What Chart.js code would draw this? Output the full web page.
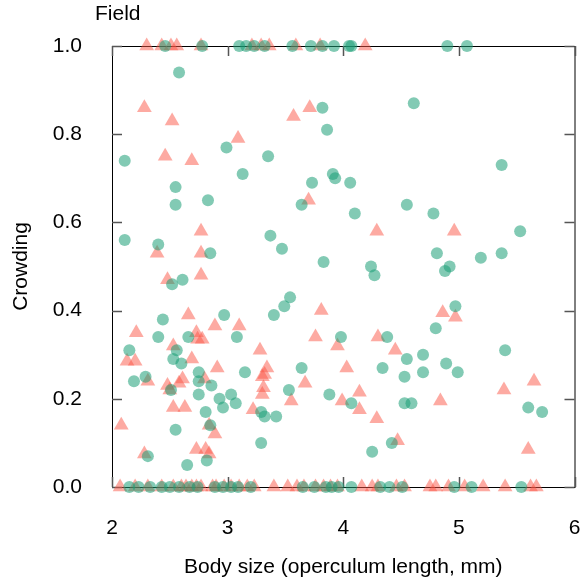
<!DOCTYPE html>
<html>
<head>
<meta charset="utf-8">
<script src="https://cdn.jsdelivr.net/npm/chart.js@4.4.1/dist/chart.umd.min.js"></script>
<style>
  body { margin: 0; background: #fff; }
</style>
</head>
<body>
<canvas id="my" width="583" height="581"></canvas>
<script>
// tick labels
const xTicks = [2, 3, 4, 5, 6];
const yTicks = [0, 0.2, 0.4, 0.6, 0.8, 1.0];

// green circles (body size, crowding)
const circleX = [
  2.46, 2.78, 3.10, 3.16, 3.23, 3.32, 3.56, 3.72, 3.82, 3.92, 4.05, 4.07, 4.90, 5.07,
  2.58, 3.82, 3.86, 4.61, 2.99, 2.11, 3.35, 5.37, 3.13, 3.73, 3.91, 3.93, 4.06, 2.55,
  2.55, 2.83, 3.64, 4.55, 4.10, 4.78, 5.53, 2.11, 2.40, 2.85, 3.37, 3.47, 3.83, 4.81,
  5.19, 5.37, 4.24, 4.27, 4.88, 4.92, 2.52, 2.61, 3.54, 3.49, 3.40, 2.97, 2.44, 4.97,
  4.80, 2.40, 2.66, 3.08, 3.98, 4.38, 2.15, 5.40, 2.56, 2.53, 2.60, 4.55, 4.69, 4.89,
  4.34, 3.64, 2.75, 3.15, 4.69, 4.99, 2.19, 2.29, 2.75, 4.53, 2.86, 2.51, 3.53, 2.75,
  3.03, 3.88, 2.93, 3.07, 4.07, 4.53, 4.59, 2.96, 5.60, 2.81, 3.29, 5.72, 3.32, 3.42,
  2.85, 2.55, 3.29, 4.42, 4.25, 2.31, 2.82, 2.65,
  2.15, 2.23, 2.33, 2.43, 2.50, 2.58, 2.67, 2.74, 2.89, 2.96, 3.03, 3.09, 3.20, 3.65,
  3.75, 3.85, 3.90, 3.96, 4.07, 4.32, 4.40, 4.51, 4.96, 5.11, 5.54
];
const circleY = [
  1, 1, 1, 1, 1, 1, 1, 1, 1, 1, 1, 1, 1, 1,
  0.94, 0.86, 0.81, 0.87, 0.77, 0.74, 0.75, 0.73, 0.71, 0.69, 0.71, 0.70, 0.69, 0.68,
  0.64, 0.65, 0.64, 0.64, 0.62, 0.62, 0.58, 0.56, 0.55, 0.53, 0.57, 0.54, 0.51, 0.53,
  0.52, 0.53, 0.50, 0.48, 0.49, 0.50, 0.46, 0.47, 0.43, 0.41, 0.39, 0.39, 0.38, 0.41,
  0.36, 0.34, 0.34, 0.34, 0.34, 0.34, 0.31, 0.31, 0.31, 0.29, 0.28, 0.29, 0.30, 0.28,
  0.27, 0.27, 0.26, 0.26, 0.26, 0.26, 0.24, 0.25, 0.24, 0.25, 0.23, 0.22, 0.22, 0.21,
  0.21, 0.21, 0.20, 0.19, 0.19, 0.19, 0.19, 0.18, 0.18, 0.17, 0.17, 0.17, 0.16, 0.16,
  0.14, 0.13, 0.10, 0.10, 0.08, 0.07, 0.06, 0.05,
  0, 0, 0, 0, 0, 0, 0, 0, 0, 0, 0, 0, 0, 0,
  0, 0, 0, 0, 0, 0, 0, 0, 0, 0, 0
];

// salmon triangles (body size, crowding)
const triangleX = [
  2.30, 2.43, 2.51, 2.56, 2.77, 3.21, 3.29, 3.36, 3.59, 3.80, 4.19,
  2.28, 2.52, 3.57, 3.71, 3.09, 2.46, 2.69, 3.70, 2.77, 2.39, 2.77, 4.29, 4.96,
  2.77, 2.48, 3.81, 2.66, 4.86, 4.97, 2.21, 2.73, 2.89, 3.10, 3.76, 4.30, 2.74,
  2.78, 2.53, 3.28, 3.95, 4.45, 2.13, 2.20, 2.69, 2.91, 3.34, 4.03, 2.31, 2.61,
  2.80, 3.30, 3.32, 5.65, 2.58, 3.67, 2.48, 2.50, 3.31, 3.30, 5.39, 4.14, 3.55,
  3.99, 4.84, 2.53, 2.63, 3.22, 4.14, 4.29, 2.08, 2.84, 2.89, 4.47, 2.28, 2.73,
  2.81, 2.84, 5.60,
  2.07, 2.20, 2.31, 2.43, 2.53, 2.60, 2.64, 2.69, 2.73, 2.77, 2.87, 2.90, 2.97,
  3.03, 3.10, 3.17, 3.23, 3.40, 3.52, 3.60, 3.66, 3.76, 3.83, 3.89, 3.95, 4.16,
  4.25, 4.30, 4.46, 4.53, 4.75, 4.80, 4.91, 5.05, 5.21, 5.40, 5.62, 5.67
];
const triangleY = [
  1, 1, 1, 1, 1, 1, 1, 1, 1, 1, 1,
  0.86, 0.83, 0.84, 0.86, 0.79, 0.75, 0.74, 0.65, 0.58, 0.53, 0.53, 0.58, 0.58,
  0.48, 0.47, 0.40, 0.39, 0.395, 0.385, 0.35, 0.35, 0.365, 0.365, 0.34, 0.34, 0.335,
  0.335, 0.32, 0.31, 0.32, 0.31, 0.285, 0.285, 0.29, 0.27, 0.27, 0.27, 0.24, 0.245,
  0.245, 0.25, 0.255, 0.24, 0.235, 0.235, 0.23, 0.22, 0.225, 0.21, 0.22, 0.215, 0.195,
  0.195, 0.195, 0.18, 0.18, 0.175, 0.175, 0.155, 0.14, 0.14, 0.12, 0.105, 0.075, 0.085,
  0.085, 0.075, 0.085,
  0, 0, 0, 0, 0, 0, 0, 0, 0, 0, 0, 0, 0,
  0, 0, 0, 0, 0, 0, 0, 0, 0, 0, 0, 0, 0,
  0, 0, 0, 0, 0, 0, 0, 0, 0, 0, 0, 0
];

const fontFamily = '"Liberation Sans", Arial, sans-serif';
const axisFont = { family: fontFamily, size: 21 };

// invisible tick marks only push the labels away from the box
const hiddenGrid = {
  display: true,
  drawOnChartArea: false,
  drawTicks: true,
  tickLength: 29,
  tickColor: 'rgba(0,0,0,0)'
};

// box round the plot, inward tick marks and the panel title
const framePlugin = {
  id: 'frame',
  beforeDatasetsDraw(chart) {
    const { ctx, chartArea: a, scales: { x, y } } = chart;
    ctx.save();
    ctx.strokeStyle = '#000';
    ctx.lineWidth = 1;
    ctx.strokeRect(a.left + 0.5, a.top + 0.5, a.right - a.left, a.bottom - a.top);

    ctx.strokeStyle = '#555';
    ctx.lineWidth = 1.5;
    ctx.beginPath();
    xTicks.forEach(v => {
      const px = Math.round(x.getPixelForValue(v)) + 0.5;
      ctx.moveTo(px, a.bottom); ctx.lineTo(px, a.bottom - 10);
      ctx.moveTo(px, a.top); ctx.lineTo(px, a.top + 10);
    });
    yTicks.forEach(v => {
      const py = Math.round(y.getPixelForValue(v)) + 0.5;
      ctx.moveTo(a.left, py); ctx.lineTo(a.left + 10, py);
      ctx.moveTo(a.right, py); ctx.lineTo(a.right - 10, py);
    });
    ctx.stroke();

    ctx.fillStyle = '#000';
    ctx.font = '21px ' + fontFamily;
    ctx.textBaseline = 'middle';
    ctx.textAlign = 'left';
    ctx.fillText('Field', 95, 14);
    ctx.restore();
  }
};

const ctxScatter = document.getElementById('my').getContext('2d');

new Chart(ctxScatter, {
  type: 'scatter',
  data: {
    datasets: [{
      label: 'circles',
      data: circleX.map((v, i) => ({ x: v, y: circleY[i] })),
      pointStyle: 'circle',
      pointRadius: 6,
      backgroundColor: 'rgba(27, 158, 119, 0.55)',
      borderWidth: 0,
      clip: false
    }, {
      label: 'triangles',
      data: triangleX.map((v, i) => ({ x: v, y: triangleY[i] })),
      pointStyle: 'triangle',
      pointRadius: 8.5,
      backgroundColor: 'rgba(252, 85, 70, 0.5)',
      borderWidth: 0,
      clip: false
    }]
  },
  options: {
    responsive: false,
    animation: false,
    events: [],
    layout: { padding: { top: 46, right: 6, bottom: 0, left: 0 } },
    plugins: {
      legend: { display: false },
      tooltip: { enabled: false }
    },
    scales: {
      x: {
        type: 'linear',
        min: 2,
        max: 6,
        afterBuildTicks: s => { s.ticks = xTicks.map(v => ({ value: v })); },
        afterFit: s => { s.height = 94; },
        ticks: { font: axisFont, color: '#000', padding: 0, maxRotation: 0 },
        grid: hiddenGrid,
        border: { display: false },
        title: {
          display: true,
          text: 'Body size (operculum length, mm)',
          font: axisFont,
          color: '#000',
          padding: { top: 0, bottom: 1 }
        }
      },
      y: {
        type: 'linear',
        min: 0,
        max: 1,
        afterBuildTicks: s => { s.ticks = yTicks.map(v => ({ value: v })); },
        afterFit: s => { s.width = 112; },
        ticks: {
          font: axisFont,
          color: '#000',
          padding: 1,
          callback: v => v.toFixed(1)
        },
        grid: hiddenGrid,
        border: { display: false },
        title: {
          display: true,
          text: 'Crowding',
          font: axisFont,
          color: '#000',
          padding: { top: 9, bottom: 0 }
        }
      }
    }
  },
  plugins: [framePlugin]
});
</script>
</body>
</html>
